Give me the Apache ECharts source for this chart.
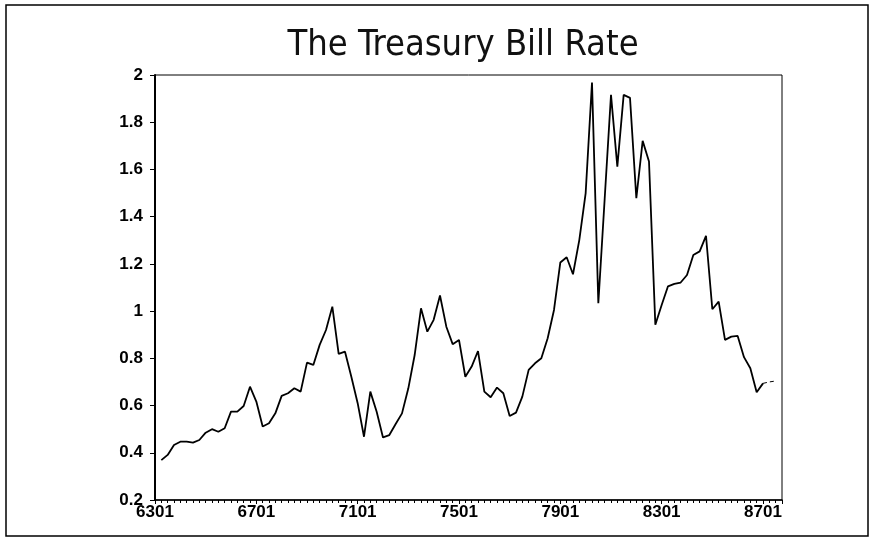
<!DOCTYPE html>
<html>
<head>
<meta charset="utf-8">
<script src="https://cdn.jsdelivr.net/npm/echarts@6/dist/echarts.min.js"></script>
<style>
  html, body { margin: 0; padding: 0; background: #fff; }
  #main { width: 880px; height: 544px; }
</style>
</head>
<body>
<div id="main"></div>
<script>
// quarterly rate, index 0 = 6301 ... 98 = 8703 (first quarter is missing)
const rates = [
    null, 0.369, 0.391, 0.433, 0.447, 0.447, 0.443, 0.454, 0.485, 0.500,
    0.489, 0.504, 0.574, 0.574, 0.598, 0.680, 0.617, 0.511, 0.525, 0.567,
    0.641, 0.652, 0.673, 0.659, 0.782, 0.772, 0.857, 0.920, 1.019, 0.819,
    0.828, 0.722, 0.610, 0.468, 0.659, 0.574, 0.465, 0.475, 0.522, 0.567,
    0.673, 0.814, 1.012, 0.913, 0.963, 1.066, 0.934, 0.860, 0.878, 0.722,
    0.765, 0.831, 0.659, 0.635, 0.676, 0.652, 0.556, 0.570, 0.638, 0.751,
    0.779, 0.800, 0.885, 1.005, 1.206, 1.228, 1.156, 1.302, 1.500, 1.968,
    1.033, 1.475, 1.916, 1.612, 1.916, 1.903, 1.478, 1.721, 1.634, 0.942,
    1.026, 1.105, 1.115, 1.121, 1.153, 1.238, 1.253, 1.319, 1.008, 1.040,
    0.878, 0.892, 0.895, 0.805, 0.758, 0.656, 0.694, 0.700, 0.704
];
const tickLabels = ['6301', '6701', '7101', '7501', '7901', '8301', '8701'];
const quartersPerLabel = 16;
const lastQuarter = 99;
const faintFrom = 96;   // the last few quarters print faintly in the source

let chart = echarts.init(document.getElementById('main'), null, {renderer: 'canvas'});

let solid = rates.map((v, i) => [i, i <= faintFrom ? v : null]);
let faint = rates.map((v, i) => [i, i >= faintFrom ? v : null]);

let option = {
    animation: false,
    backgroundColor: '#fff',
    title: {
        text: 'The Treasury Bill Rate',
        left: 458,
        top: 23,
        textAlign: 'center',
        textStyle: {
            fontFamily: '"DejaVu Sans Condensed", "Liberation Sans Narrow", "DejaVu Sans"',
            fontWeight: 'normal',
            fontSize: 36,
            color: '#111'
        }
    },
    graphic: [{
        type: 'rect',
        shape: {x: 6, y: 5, width: 862, height: 531},
        style: {fill: null, stroke: '#000', lineWidth: 1.5},
        silent: true
    }],
    grid: {left: 155, right: 98, top: 75, bottom: 44, show: true, borderColor: '#000', borderWidth: 1},
    xAxis: {
        type: 'value',
        min: 0,
        max: lastQuarter,
        interval: quartersPerLabel,
        axisLine: {lineStyle: {color: '#000', width: 1.5}},
        axisTick: {show: true, length: 4, lineStyle: {color: '#000'}},
        minorTick: {show: true, splitNumber: quartersPerLabel, length: 3, lineStyle: {color: '#000'}},
        splitLine: {show: false},
        axisLabel: {
            showMaxLabel: false,
            margin: 4,
            color: '#000',
            fontFamily: 'Liberation Sans',
            fontWeight: 'bold',
            fontSize: 17,
            formatter: v => tickLabels[v / quartersPerLabel] || ''
        }
    },
    yAxis: {
        type: 'value',
        min: 0.2,
        max: 2,
        interval: 0.2,
        axisLine: {show: true, lineStyle: {color: '#000', width: 2}},
        axisTick: {show: true, length: 5, lineStyle: {color: '#000'}},
        splitLine: {show: false},
        axisLabel: {
            margin: 12,
            color: '#000',
            fontFamily: 'Liberation Sans',
            fontWeight: 'bold',
            fontSize: 17
        }
    },
    series: [{
        type: 'line',
        data: solid,
        showSymbol: false,
        connectNulls: false,
        lineStyle: {color: '#000', width: 1.8}
    }, {
        type: 'line',
        data: faint,
        showSymbol: false,
        connectNulls: false,
        lineStyle: {color: '#000', width: 1, type: [4, 3]}
    }]
};

chart.setOption(option);
</script>
</body>
</html>
